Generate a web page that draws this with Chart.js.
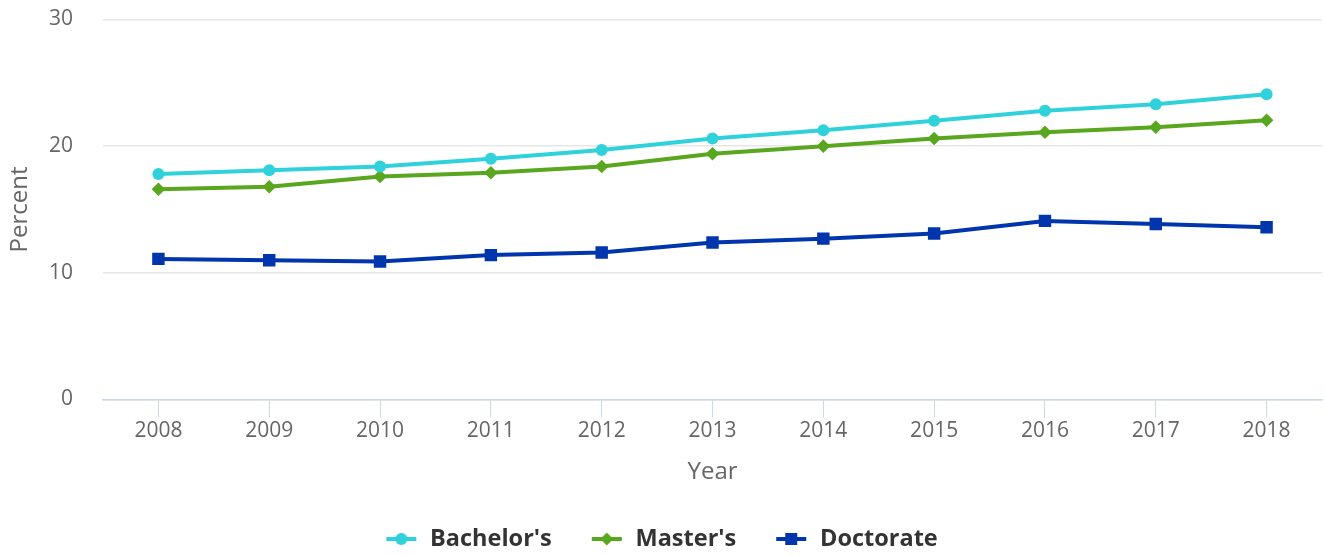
<!DOCTYPE html>
<html>
<head>
<meta charset="utf-8">
<script src="https://cdn.jsdelivr.net/npm/chart.js@4/dist/chart.umd.min.js"></script>
<style>
  html, body { margin: 0; padding: 0; background: #fff; overflow: hidden; }
  #wrap { width: 1325px; height: 555px; }
  canvas { display: block; }
</style>
</head>
<body>
<div id="wrap"><canvas id="chart"></canvas></div>
<script>
const years = ["2008", "2009", "2010", "2011", "2012", "2013", "2014", "2015", "2016", "2017", "2018"];
const bachelors = [17.8, 18.1, 18.4, 19.0, 19.7, 20.6, 21.25, 22.0, 22.8, 23.3, 24.1];
const masters = [16.6, 16.8, 17.6, 17.9, 18.4, 19.4, 20.0, 20.6, 21.1, 21.5, 22.05];
const doctorate = [11.1, 11.0, 10.9, 11.4, 11.6, 12.4, 12.7, 13.1, 14.1, 13.85, 13.6];
const yTicks = [0, 10, 20, 30];

const FONT = "'Open Sans', sans-serif";
const colors = {
  bachelors: "#2fd1db",
  masters: "#58a71e",
  doctorate: "#0035ae",
};

// small canvas used as the legend symbol: line with the marker in the middle
function legendIcon(color, style) {
  const c = document.createElement("canvas");
  c.width = 34;
  c.height = 16;
  const ctx = c.getContext("2d");
  ctx.strokeStyle = color;
  ctx.lineWidth = 4;
  ctx.beginPath();
  ctx.moveTo(2, 8);
  ctx.lineTo(32, 8);
  ctx.stroke();
  ctx.fillStyle = color;
  ctx.beginPath();
  if (style === "circle") {
    ctx.arc(17, 8, 6, 0, Math.PI * 2);
  } else if (style === "rectRot") {
    ctx.moveTo(17, 1.5);
    ctx.lineTo(23.5, 8);
    ctx.lineTo(17, 14.5);
    ctx.lineTo(10.5, 8);
    ctx.closePath();
  } else {
    ctx.rect(11, 2, 12, 12);
  }
  ctx.fill();
  return c;
}

function series(label, data, color, style, radius) {
  return {
    label,
    data,
    borderColor: color,
    backgroundColor: color,
    borderWidth: 4,
    pointStyle: style,
    pointRadius: radius,
    pointHoverRadius: radius,
    pointBorderWidth: 0,
    tension: 0,
    legendIcon: legendIcon(color, style),
  };
}

new Chart(document.getElementById("chart").getContext("2d"), {
  type: "line",
  data: {
    labels: years,
    datasets: [
      series("Bachelor's", bachelors, colors.bachelors, "circle", 6),
      series("Master's", masters, colors.masters, "rectRot", 6.8),
      series("Doctorate", doctorate, colors.doctorate, "rect", 8.8),
    ],
  },
  options: {
    responsive: true,
    maintainAspectRatio: false,
    animation: false,
    layout: {
      autoPadding: false,
      padding: { top: 19.5, right: 3, left: 0, bottom: -5.75 },
    },
    scales: {
      x: {
        offset: true,
        grid: {
          offset: false,
          drawOnChartArea: false,
          drawTicks: true,
          tickLength: 18,
          color: "#ccd6eb",
        },
        border: { color: "#ccd6eb", width: 1.5 },
        ticks: {
          color: "#666666",
          padding: 1,
          font: { family: FONT, size: 21 },
          maxRotation: 0,
        },
        title: {
          display: true,
          text: "Year",
          color: "#666666",
          font: { family: FONT, size: 24 },
          padding: { top: 0, bottom: 3 },
        },
        afterFit: (s) => {
          s.height = 89.75;
          s.paddingLeft = 0;
          s.paddingRight = 0;
        },
      },
      y: {
        min: 0,
        max: 30,
        afterBuildTicks: (s) => { s.ticks = yTicks.map((v) => ({ value: v })); },
        grid: { color: "#e6e6e6", drawTicks: false, lineWidth: 1.5 },
        border: { display: false },
        ticks: {
          color: "#666666",
          padding: 30,
          font: { family: FONT, size: 21 },
        },
        title: {
          display: true,
          text: "Percent",
          color: "#666666",
          font: { family: FONT, size: 24 },
          padding: { top: 6, bottom: 0 },
        },
        afterFit: (s) => {
          s.width = 103;
          s.paddingTop = 0;
          s.paddingBottom = 0;
        },
      },
    },
    plugins: {
      legend: {
        position: "bottom",
        labels: {
          usePointStyle: true,
          pointStyleWidth: 34,
          padding: 38,
          color: "#333333",
          font: { family: FONT, size: 23.5, weight: "bold" },
          generateLabels: (chart) =>
            chart.data.datasets.map((ds, i) => ({
              text: ds.label,
              pointStyle: ds.legendIcon,
              fillStyle: ds.backgroundColor,
              strokeStyle: ds.borderColor,
              lineWidth: 0,
              hidden: !chart.isDatasetVisible(i),
              datasetIndex: i,
              fontColor: "#333333",
            })),
        },
      },
      tooltip: { enabled: false },
    },
  },
});
</script>
</body>
</html>
